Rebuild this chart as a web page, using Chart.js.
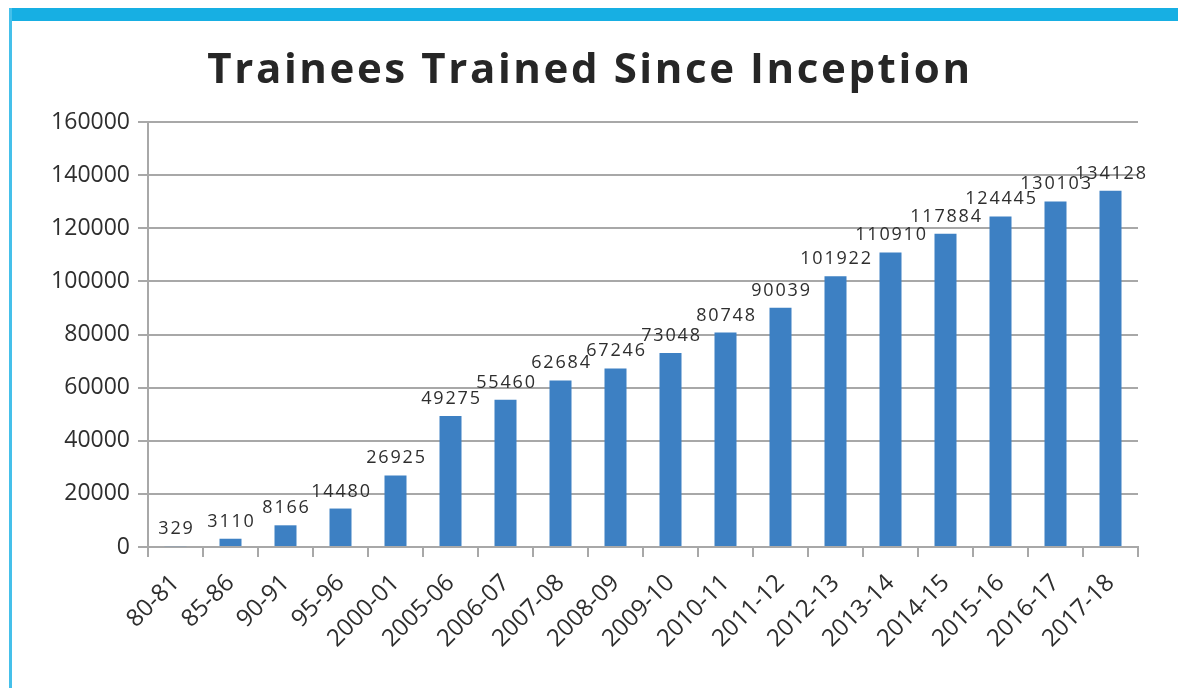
<!DOCTYPE html>
<html>
<head>
<meta charset="utf-8">
<title>Trainees Trained Since Inception</title>
<script src="https://cdn.jsdelivr.net/npm/chart.js@4.4.1/dist/chart.umd.min.js"></script>
<style>
  body { margin: 0; background: #fff; }
  .wrap { position: relative; width: 1178px; height: 688px; overflow: hidden; }
  .top-bar { position: absolute; left: 9px; top: 8px; right: 0; height: 13px; background: #17afe3; }
  .left-bar { position: absolute; left: 9px; top: 8px; bottom: 0; width: 3px; background: #45c0ea; }
  canvas { position: absolute; left: 0; top: 0; }
</style>
</head>
<body>
<div class="wrap">
  <div class="top-bar"></div>
  <div class="left-bar"></div>
  <canvas id="js-bar-chart" width="1178" height="688"></canvas>
</div>
<script>
const chartTitle = "Trainees Trained Since Inception";

const years = [
  "80-81", "85-86", "90-91", "95-96", "2000-01", "2005-06",
  "2006-07", "2007-08", "2008-09", "2009-10", "2010-11", "2011-12",
  "2012-13", "2013-14", "2014-15", "2015-16", "2016-17", "2017-18",
];

const trainees = [
  329, 3110, 8166, 14480, 26925, 49275,
  55460, 62684, 67246, 73048, 80748, 90039,
  101922, 110910, 117884, 124445, 130103, 134128,
];

const yTicks = [0, 20000, 40000, 60000, 80000, 100000, 120000, 140000, 160000];

//title with letter spacing, chart.js title can't do that
const spacedTitle = {
  id: "spacedTitle",
  afterDraw(chart) {
    const ctx = chart.ctx;
    ctx.save();
    ctx.font = "bold 42px 'Open Sans'";
    ctx.letterSpacing = "2.6px";
    ctx.fillStyle = "#262626";
    ctx.textAlign = "center";
    ctx.textBaseline = "alphabetic";
    ctx.fillText(chartTitle, 590, 83);
    ctx.restore();
  },
};

//value labels on top of the bars
const barLabels = {
  id: "barLabels",
  afterDatasetsDraw(chart) {
    const ctx = chart.ctx;
    const meta = chart.getDatasetMeta(0);
    ctx.save();
    ctx.font = "18px 'Open Sans'";
    ctx.letterSpacing = "1.8px";
    ctx.fillStyle = "#2e2e2e";
    ctx.textAlign = "center";
    ctx.textBaseline = "alphabetic";
    meta.data.forEach((bar, i) => {
      ctx.fillText(String(trainees[i]), bar.x + 1, bar.y - 12);
    });
    ctx.restore();
  },
};

const ctx = document.getElementById("js-bar-chart");

const myBarChart = new Chart(ctx, {
  type: "bar",
  data: {
    labels: years,
    datasets: [
      {
        label: "Trainees",
        data: trainees,
        backgroundColor: "#3d80c3",
        borderWidth: 0,
        barPercentage: 0.4,
        categoryPercentage: 1,
      },
    ],
  },
  options: {
    responsive: false,
    animation: false,
    layout: {
      padding: { left: 20, right: 40, top: 122, bottom: 10 },
    },
    plugins: {
      legend: { display: false },
      title: { display: false },
      tooltip: { enabled: false },
    },
    scales: {
      x: {
        grid: {
          drawOnChartArea: false,
          color: "#a8a8a8",
          lineWidth: 2,
          tickLength: 10,
        },
        border: { color: "#a8a8a8", width: 2 },
        ticks: {
          maxRotation: 45,
          minRotation: 45,
          padding: 12,
          color: "#2e2e2e",
          font: { family: "'Open Sans'", size: 24 },
        },
        afterFit(scale) {
          scale.height = 131;
        },
      },
      y: {
        min: 0,
        max: 160000,
        afterBuildTicks(scale) {
          scale.ticks = yTicks.map((v) => ({ value: v }));
        },
        grid: {
          color: "#a8a8a8",
          lineWidth: 2,
          tickLength: 10,
        },
        border: { color: "#a8a8a8", width: 2 },
        ticks: {
          padding: 8,
          color: "#2e2e2e",
          font: { family: "'Open Sans'", size: 23 },
          callback: (value) => String(value),
        },
        afterFit(scale) {
          scale.width = 128;
        },
      },
    },
  },
  plugins: [spacedTitle, barLabels],
});
</script>
</body>
</html>
